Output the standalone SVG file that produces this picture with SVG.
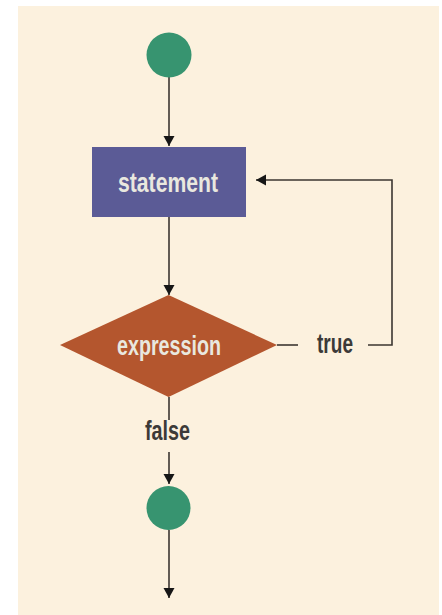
<svg xmlns="http://www.w3.org/2000/svg" width="442" height="615" viewBox="0 0 442 615">
  <style>
    .wire { fill: none; stroke: #3b3631; stroke-width: 1.6; }
    .lbl { font-family: "Liberation Sans", Arial, sans-serif; font-size: 28px; font-weight: bold; text-anchor: start; }
    .inner { fill: #e9e8df; }
    .outer { fill: #3c3a38; }
  </style>
  <defs>
    <marker id="arrow" viewBox="0 0 10 14" refX="10" refY="7" markerWidth="11" markerHeight="14" markerUnits="userSpaceOnUse" orient="auto">
      <path d="M0,1.5 L10,7 L0,12.5 Z" fill="#161616"/>
    </marker>
  </defs>

  <rect x="0" y="0" width="442" height="615" fill="#ffffff"/>
  <rect x="18" y="6" width="421" height="609" fill="#fcf1de"/>

  <g id="connectors">
    <line class="wire" x1="169" y1="77" x2="169" y2="146" marker-end="url(#arrow)"/>
    <line class="wire" x1="169" y1="217" x2="169" y2="295" marker-end="url(#arrow)"/>
    <line class="wire" x1="277" y1="345" x2="298" y2="345"/>
    <polyline class="wire" points="368,345 392,345 392,180 256,180" marker-end="url(#arrow)"/>
    <line class="wire" x1="169" y1="397" x2="169" y2="420"/>
    <line class="wire" x1="169" y1="452" x2="169" y2="484" marker-end="url(#arrow)"/>
    <line class="wire" x1="169" y1="530" x2="169" y2="598" marker-end="url(#arrow)"/>
    <text class="lbl outer" x="317" y="353" textLength="36" lengthAdjust="spacingAndGlyphs">true</text>
    <text class="lbl outer" x="145" y="440" textLength="45" lengthAdjust="spacingAndGlyphs">false</text>
  </g>

  <g id="start">
    <circle cx="169" cy="55" r="22.5" fill="#379470"/>
  </g>

  <g id="statement">
    <rect x="92" y="147" width="154" height="70" fill="#5b5b96"/>
    <text class="lbl inner" x="118" y="192" textLength="100" lengthAdjust="spacingAndGlyphs">statement</text>
  </g>

  <g id="expression">
    <polygon points="168.5,295 277,345 168.5,397 60,345" fill="#b4562e"/>
    <text class="lbl inner" x="117" y="355" textLength="104" lengthAdjust="spacingAndGlyphs">expression</text>
  </g>

  <g id="end">
    <circle cx="168.5" cy="508" r="22" fill="#379470"/>
  </g>
</svg>
